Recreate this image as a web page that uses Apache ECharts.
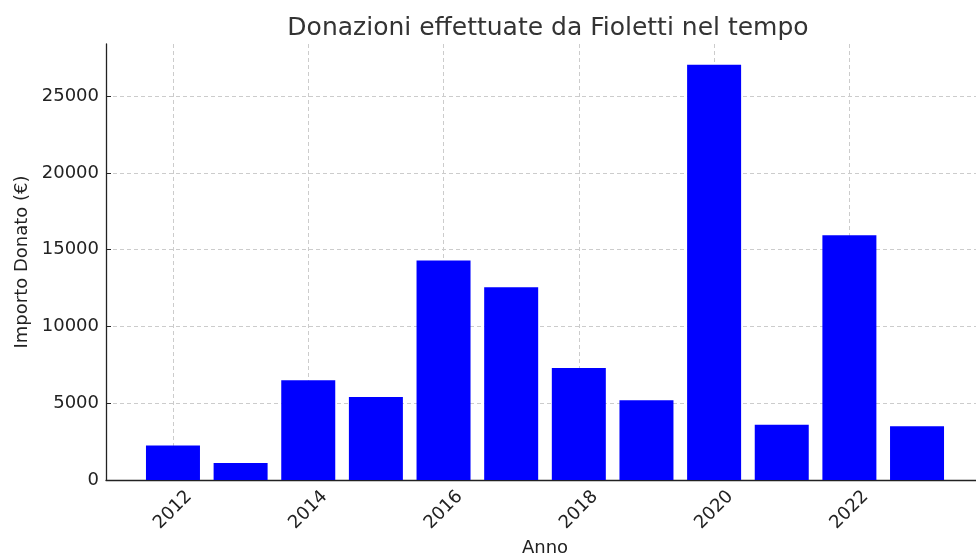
<!DOCTYPE html>
<html>
<head>
<meta charset="utf-8">
<script src="https://cdn.jsdelivr.net/npm/echarts@6/dist/echarts.min.js"></script>
<style>
  html, body { margin: 0; padding: 0; background: #fff; }
  #chart { width: 976px; height: 554px; }
</style>
</head>
<body>
<div id="chart"></div>
<script>
// dati
var anni = [2012, 2013, 2014, 2015, 2016, 2017, 2018, 2019, 2020, 2021, 2022, 2023]
var importi = [2250, 1100, 6500, 5400, 14300, 12550, 7300, 5200, 27050, 3600, 15950, 3500]
var tickAnni = [2012, 2014, 2016, 2018, 2020, 2022]
var tickImporti = [0, 5000, 10000, 15000, 20000, 25000]

var font = 'DejaVu Sans'
var chart = echarts.init(document.getElementById('chart'))

var dati = anni.map(function (a, i) {
  return [a, importi[i]]
})

chart.setOption({
  animation: false,
  title: {
    text: 'Donazioni effettuate da Fioletti nel tempo',
    left: 543,
    textAlign: 'center',
    top: 11,
    textStyle: { fontFamily: font, fontSize: 25, fontWeight: 'normal', color: '#333' }
  },
  grid: { left: 106, right: -8, top: 44, bottom: 74, outerBoundsMode: 'none', containLabel: false },
  xAxis: {
    type: 'value',
    min: 2011.01,
    max: 2023.99,
    name: 'Anno',
    nameLocation: 'middle',
    nameGap: 57,
    nameTextStyle: { fontFamily: font, fontSize: 18, color: '#222' },
    axisLine: { onZero: false, lineStyle: { color: '#222', width: 1.3 } },
    axisTick: { inside: true, length: 5, customValues: tickAnni, lineStyle: { color: '#222' } },
    axisLabel: {
      customValues: tickAnni,
      rotate: 45,
      align: 'center',
      verticalAlign: 'middle',
      margin: 30,
      fontFamily: font,
      fontSize: 18,
      color: '#222',
      formatter: function (v) { return String(v) }
    },
    splitLine: { show: true, customValues: tickAnni, lineStyle: { color: '#ccc', type: [4, 3], width: 1 } }
  },
  yAxis: {
    type: 'value',
    min: 0,
    max: 28400,
    name: 'Importo Donato (€)',
    nameLocation: 'middle',
    nameGap: 73,
    nameTextStyle: { fontFamily: font, fontSize: 18, color: '#222' },
    axisLine: { show: true, lineStyle: { color: '#222', width: 1.3 } },
    axisTick: { show: true, inside: true, length: 5, customValues: tickImporti, lineStyle: { color: '#222' } },
    axisLabel: {
      customValues: tickImporti,
      margin: 7,
      fontFamily: font,
      fontSize: 18,
      color: '#222',
      formatter: function (v) { return String(v) }
    },
    splitLine: { show: true, customValues: tickImporti, lineStyle: { color: '#ccc', type: [4, 3], width: 1 } }
  },
  series: [
    {
      type: 'bar',
      data: dati,
      barWidth: 54,
      itemStyle: { color: '#0000ff' },
      z: 1
    }
  ]
})
</script>
</body>
</html>
